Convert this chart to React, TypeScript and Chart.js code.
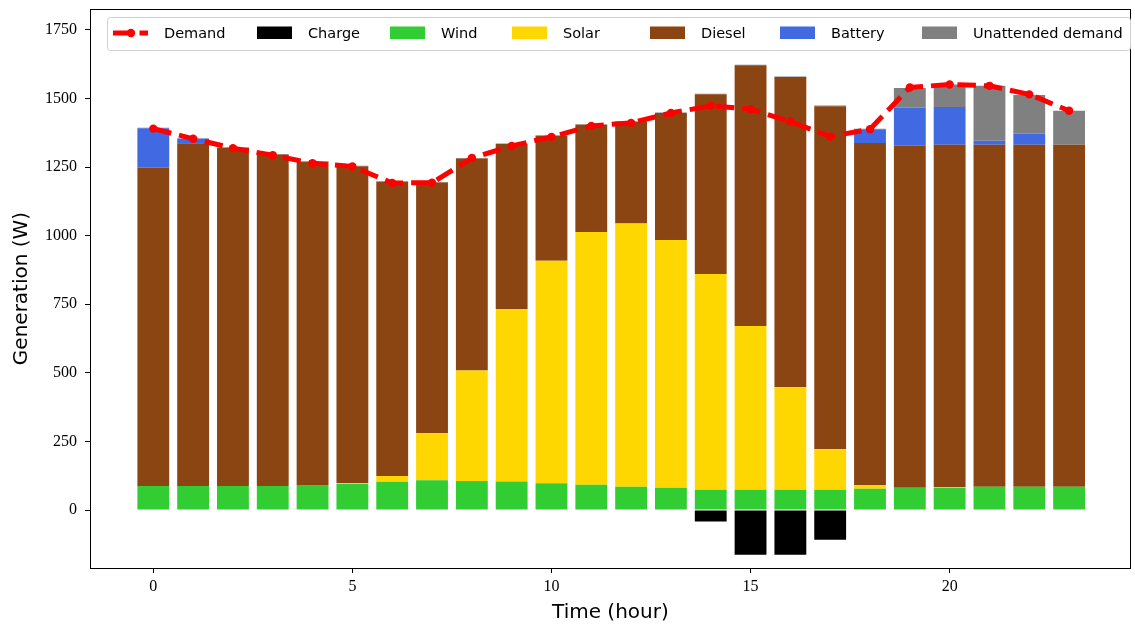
import React, { useEffect, useRef } from "react";
import { Chart, registerables } from "chart.js";

Chart.register(...registerables);

const hours = [0, 1, 2, 3, 4, 5, 6, 7, 8, 9, 10, 11, 12, 13, 14, 15, 16, 17, 18, 19, 20, 21, 22, 23];
const demand = [1390, 1353, 1319, 1293, 1264, 1252, 1192, 1193, 1283, 1327, 1360, 1400, 1411, 1447, 1473, 1461, 1416, 1361, 1388, 1540, 1551, 1546, 1515, 1455];
const charge = [0, 0, 0, 0, 0, 0, 0, 0, 0, 0, 0, 0, 0, 0, -42, -163, -163, -108, 0, 0, 0, 0, 0, 0];
const wind = [88, 88, 88, 88, 91, 95, 103, 109, 106, 104, 98, 92, 85, 81, 74, 74, 74, 74, 78, 81, 81, 85, 85, 85];
const solar = [0, 0, 0, 0, 0, 4, 21, 172, 403, 629, 811, 921, 959, 903, 786, 597, 374, 148, 13, 0, 3, 0, 0, 0];
const diesel = [1160, 1249, 1232, 1208, 1178, 1154, 1072, 913, 772, 601, 455, 391, 371, 463, 655, 950, 1130, 1250, 1247, 1247, 1247, 1246, 1246, 1246];
const battery = [143, 16, 0, 0, 0, 0, 0, 0, 0, 0, 0, 0, 0, 0, 0, 0, 0, 0, 50, 139, 138, 15, 41, 0];
const unattended = [2, 2, 2, 2, 2, 2, 2, 2, 2, 2, 2, 2, 2, 2, 2, 2, 2, 2, 2, 71, 82, 200, 141, 124];

const xTicks = [0, 5, 10, 15, 20];
const yTicks = [0, 250, 500, 750, 1000, 1250, 1500, 1750];

const seriesNames = ["Demand", "Charge", "Wind", "Solar", "Diesel", "Battery", "Unattended demand"];
const seriesColors = ["#ff0000", "#000000", "#32cd32", "#ffd700", "#8b4513", "#4169e1", "#808080"];

const toXY = (arr: number[]) => arr.map((v, i) => ({ x: hours[i], y: v }));

const legendPlugin = {
  id: "customLegend",
  afterDraw(chart: any) {
    const ctx = chart.ctx as CanvasRenderingContext2D;
    const area = chart.chartArea;
    ctx.save();
    // axes frame
    ctx.strokeStyle = "#000";
    ctx.lineWidth = 1;
    const l = Math.round(area.left) + 0.5;
    const t = Math.round(area.top) + 0.5;
    const rr = Math.round(area.right) - 0.5;
    const b = Math.round(area.bottom) + 0.5;
    ctx.strokeRect(l, t, rr - l, b - t);

    // legend box
    const bx = 107.5, by = 17.5, bw = 1023, bh = 33, r = 3;
    ctx.beginPath();
    ctx.moveTo(bx + r, by);
    ctx.lineTo(bx + bw - r, by);
    ctx.quadraticCurveTo(bx + bw, by, bx + bw, by + r);
    ctx.lineTo(bx + bw, by + bh - r);
    ctx.quadraticCurveTo(bx + bw, by + bh, bx + bw - r, by + bh);
    ctx.lineTo(bx + r, by + bh);
    ctx.quadraticCurveTo(bx, by + bh, bx, by + bh - r);
    ctx.lineTo(bx, by + r);
    ctx.quadraticCurveTo(bx, by, bx + r, by);
    ctx.closePath();
    ctx.fillStyle = "rgba(255,255,255,0.85)";
    ctx.fill();
    ctx.strokeStyle = "#d0d0d0";
    ctx.stroke();

    const handleX = [113, 257, 390, 512, 650, 780, 922];
    const cy = 33;
    ctx.font = "14.5px 'DejaVu Sans'";
    ctx.textBaseline = "middle";
    ctx.textAlign = "left";
    seriesNames.forEach((name, i) => {
      const hx = handleX[i];
      if (i === 0) {
        ctx.strokeStyle = seriesColors[0];
        ctx.lineWidth = 5;
        ctx.setLineDash([18.5, 8]);
        ctx.beginPath();
        ctx.moveTo(hx, cy);
        ctx.lineTo(hx + 35, cy);
        ctx.stroke();
        ctx.setLineDash([]);
        ctx.fillStyle = seriesColors[0];
        ctx.beginPath();
        ctx.arc(hx + 18, cy, 4.2, 0, Math.PI * 2);
        ctx.fill();
      } else {
        ctx.fillStyle = seriesColors[i];
        ctx.fillRect(hx, cy - 6.5, 35, 12.5);
      }
      ctx.fillStyle = "#000";
      ctx.fillText(name, hx + 51, cy + 1);
    });
    ctx.restore();
  },
};

export default function App() {
  const ref = useRef<HTMLCanvasElement | null>(null);
  useEffect(() => {
    document.body.style.margin = "0";
    const canvas = ref.current!;
    const barDs = (idx: number, arr: number[]) => ({
      type: "bar" as const,
      label: seriesNames[idx],
      data: toXY(arr),
      backgroundColor: seriesColors[idx],
      borderWidth: 0,
      barPercentage: 0.8,
      categoryPercentage: 1.0,
      order: 1,
    });
    const chart = new Chart(canvas, {
      type: "bar",
      data: {
        datasets: [
          {
            type: "line" as const,
            label: seriesNames[0],
            data: toXY(demand),
            borderColor: seriesColors[0],
            backgroundColor: seriesColors[0],
            borderWidth: 5,
            borderDash: [18.5, 8],
            pointRadius: 4.2,
            pointBorderWidth: 0,
            pointBackgroundColor: seriesColors[0],
            tension: 0,
            stack: "demand",
            order: 0,
          } as any,
          barDs(1, charge),
          barDs(2, wind),
          barDs(3, solar),
          barDs(4, diesel),
          barDs(5, battery),
          barDs(6, unattended),
        ],
      },
      options: {
        animation: false,
        responsive: false,
        layout: { padding: { left: 0, right: 1, top: 9, bottom: 0 } },
        plugins: { legend: { display: false }, tooltip: { enabled: false } },
        scales: {
          x: {
            type: "linear",
            stacked: true,
            offset: false,
            min: -1.59,
            max: 24.55,
            afterFit: (s: any) => { s.height = 60; s.paddingLeft = 0; s.paddingRight = 0; },
            afterBuildTicks: (s: any) => { s.ticks = xTicks.map((v) => ({ value: v })); },
            grid: { offset: false, drawOnChartArea: false, drawTicks: true, tickLength: 5, tickColor: "#000" },
            border: { display: false },
            ticks: { font: { family: "'Liberation Serif'", size: 16 }, color: "#000", padding: 4, callback: (v: any) => String(v) },
            title: { display: true, text: "Time (hour)", font: { family: "'DejaVu Sans'", size: 20 }, color: "#000", padding: { top: 0, bottom: 3 } },
          },
          y: {
            type: "linear",
            stacked: true,
            min: -211,
            max: 1826,
            afterFit: (s: any) => { s.width = 90; s.paddingTop = 0; s.paddingBottom = 0; },
            afterBuildTicks: (s: any) => { s.ticks = yTicks.map((v) => ({ value: v })); },
            grid: { drawOnChartArea: false, drawTicks: true, tickLength: 5, tickColor: "#000" },
            border: { display: false },
            ticks: { font: { family: "'Liberation Serif'", size: 16 }, color: "#000", padding: 8, callback: (v: any) => String(v) },
            title: { display: true, text: "Generation (W)", font: { family: "'DejaVu Sans'", size: 20 }, color: "#000", padding: { top: 10, bottom: 0 } },
          },
        },
      },
      plugins: [legendPlugin],
    });
    return () => chart.destroy();
  }, []);
  return <canvas ref={ref} width={1135} height={628} style={{ display: "block" }} />;
}
